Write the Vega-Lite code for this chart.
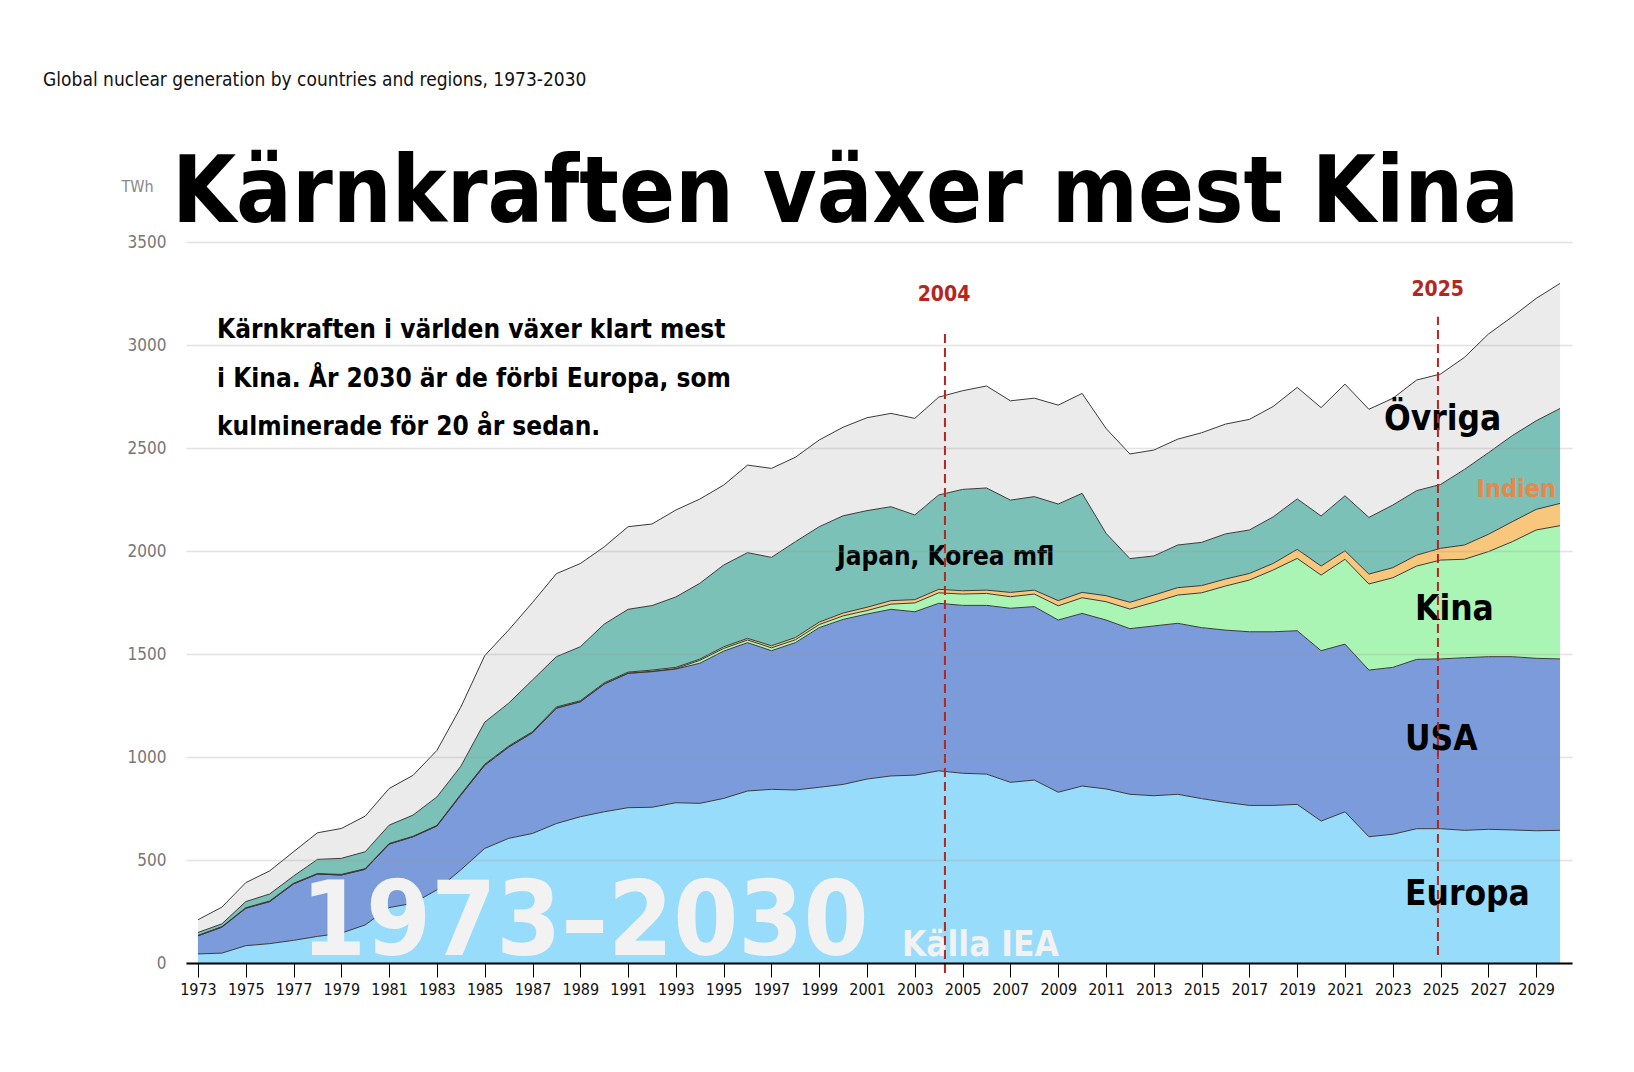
{
  "$schema": "https://vega.github.io/schema/vega-lite/v6.json",
  "width": 1386,
  "height": 721,
  "autosize": {"type": "none"},
  "padding": {"left": 186, "top": 242, "right": 62, "bottom": 109},
  "background": "white",
  "config": {
    "view": {"stroke": null},
    "font": "DejaVu Sans Condensed, sans-serif",
    "text": {"font": "DejaVu Sans Condensed, sans-serif"}
  },
  "layer": [
    {
      "data": {
        "values": [
          {"year": 1973, "Europa": 44, "USA": 88, "Kina": 0, "Indien": 2, "Japan": 14, "Ovriga": 62},
          {"year": 1974, "Europa": 48, "USA": 126, "Kina": 0, "Indien": 2, "Japan": 14, "Ovriga": 81},
          {"year": 1975, "Europa": 84, "USA": 182, "Kina": 0, "Indien": 2, "Japan": 30, "Ovriga": 92},
          {"year": 1976, "Europa": 94, "USA": 204, "Kina": 0, "Indien": 3, "Japan": 34, "Ovriga": 112},
          {"year": 1977, "Europa": 110, "USA": 274, "Kina": 0, "Indien": 3, "Japan": 35, "Ovriga": 118},
          {"year": 1978, "Europa": 129, "USA": 303, "Kina": 0, "Indien": 2, "Japan": 69, "Ovriga": 129},
          {"year": 1979, "Europa": 145, "USA": 282, "Kina": 0, "Indien": 3, "Japan": 78, "Ovriga": 145},
          {"year": 1980, "Europa": 185, "USA": 270, "Kina": 0, "Indien": 3, "Japan": 82, "Ovriga": 173},
          {"year": 1981, "Europa": 269, "USA": 308, "Kina": 0, "Indien": 3, "Japan": 89, "Ovriga": 178},
          {"year": 1982, "Europa": 290, "USA": 323, "Kina": 0, "Indien": 2, "Japan": 103, "Ovriga": 193},
          {"year": 1983, "Europa": 355, "USA": 310, "Kina": 0, "Indien": 3, "Japan": 138, "Ovriga": 226},
          {"year": 1984, "Europa": 452, "USA": 363, "Kina": 0, "Indien": 4, "Japan": 136, "Ovriga": 287},
          {"year": 1985, "Europa": 556, "USA": 404, "Kina": 0, "Indien": 5, "Japan": 204, "Ovriga": 323},
          {"year": 1986, "Europa": 605, "USA": 443, "Kina": 0, "Indien": 5, "Japan": 208, "Ovriga": 355},
          {"year": 1987, "Europa": 629, "USA": 489, "Kina": 0, "Indien": 5, "Japan": 251, "Ovriga": 376},
          {"year": 1988, "Europa": 677, "USA": 560, "Kina": 0, "Indien": 6, "Japan": 244, "Ovriga": 403},
          {"year": 1989, "Europa": 710, "USA": 558, "Kina": 0, "Indien": 5, "Japan": 262, "Ovriga": 404},
          {"year": 1990, "Europa": 734, "USA": 620, "Kina": 0, "Indien": 6, "Japan": 285, "Ovriga": 375},
          {"year": 1991, "Europa": 754, "USA": 652, "Kina": 1, "Indien": 5, "Japan": 305, "Ovriga": 401},
          {"year": 1992, "Europa": 756, "USA": 658, "Kina": 2, "Indien": 6, "Japan": 313, "Ovriga": 396},
          {"year": 1993, "Europa": 778, "USA": 649, "Kina": 2, "Indien": 6, "Japan": 342, "Ovriga": 422},
          {"year": 1994, "Europa": 775, "USA": 680, "Kina": 14, "Indien": 6, "Japan": 368, "Ovriga": 409},
          {"year": 1995, "Europa": 799, "USA": 715, "Kina": 13, "Indien": 8, "Japan": 397, "Ovriga": 388},
          {"year": 1996, "Europa": 835, "USA": 720, "Kina": 13, "Indien": 8, "Japan": 416, "Ovriga": 425},
          {"year": 1997, "Europa": 843, "USA": 673, "Kina": 14, "Indien": 10, "Japan": 429, "Ovriga": 432},
          {"year": 1998, "Europa": 840, "USA": 715, "Kina": 14, "Indien": 11, "Japan": 465, "Ovriga": 410},
          {"year": 1999, "Europa": 853, "USA": 775, "Kina": 15, "Indien": 12, "Japan": 463, "Ovriga": 421},
          {"year": 2000, "Europa": 867, "USA": 801, "Kina": 17, "Indien": 14, "Japan": 472, "Ovriga": 430},
          {"year": 2001, "Europa": 893, "USA": 801, "Kina": 17, "Indien": 16, "Japan": 469, "Ovriga": 451},
          {"year": 2002, "Europa": 908, "USA": 809, "Kina": 25, "Indien": 17, "Japan": 456, "Ovriga": 453},
          {"year": 2003, "Europa": 912, "USA": 793, "Kina": 43, "Indien": 16, "Japan": 411, "Ovriga": 469},
          {"year": 2004, "Europa": 933, "USA": 813, "Kina": 51, "Indien": 17, "Japan": 458, "Ovriga": 475},
          {"year": 2005, "Europa": 921, "USA": 815, "Kina": 55, "Indien": 16, "Japan": 492, "Ovriga": 479},
          {"year": 2006, "Europa": 917, "USA": 819, "Kina": 58, "Indien": 16, "Japan": 496, "Ovriga": 495},
          {"year": 2007, "Europa": 877, "USA": 845, "Kina": 56, "Indien": 21, "Japan": 448, "Ovriga": 482},
          {"year": 2008, "Europa": 888, "USA": 842, "Kina": 61, "Indien": 19, "Japan": 454, "Ovriga": 478},
          {"year": 2009, "Europa": 829, "USA": 836, "Kina": 69, "Indien": 25, "Japan": 469, "Ovriga": 480},
          {"year": 2010, "Europa": 859, "USA": 838, "Kina": 76, "Indien": 26, "Japan": 481, "Ovriga": 485},
          {"year": 2011, "Europa": 845, "USA": 820, "Kina": 89, "Indien": 29, "Japan": 303, "Ovriga": 509},
          {"year": 2012, "Europa": 819, "USA": 804, "Kina": 95, "Indien": 33, "Japan": 212, "Ovriga": 508},
          {"year": 2013, "Europa": 812, "USA": 824, "Kina": 115, "Indien": 35, "Japan": 190, "Ovriga": 514},
          {"year": 2014, "Europa": 819, "USA": 830, "Kina": 137, "Indien": 36, "Japan": 207, "Ovriga": 514},
          {"year": 2015, "Europa": 798, "USA": 830, "Kina": 169, "Indien": 35, "Japan": 210, "Ovriga": 532},
          {"year": 2016, "Europa": 780, "USA": 836, "Kina": 214, "Indien": 34, "Japan": 219, "Ovriga": 533},
          {"year": 2017, "Europa": 765, "USA": 843, "Kina": 251, "Indien": 32, "Japan": 211, "Ovriga": 537},
          {"year": 2018, "Europa": 765, "USA": 843, "Kina": 300, "Indien": 32, "Japan": 226, "Ovriga": 536},
          {"year": 2019, "Europa": 770, "USA": 843, "Kina": 351, "Indien": 44, "Japan": 245, "Ovriga": 541},
          {"year": 2020, "Europa": 689, "USA": 827, "Kina": 367, "Indien": 44, "Japan": 243, "Ovriga": 526},
          {"year": 2021, "Europa": 734, "USA": 814, "Kina": 412, "Indien": 41, "Japan": 267, "Ovriga": 542},
          {"year": 2022, "Europa": 613, "USA": 809, "Kina": 418, "Indien": 48, "Japan": 275, "Ovriga": 525},
          {"year": 2023, "Europa": 625, "USA": 810, "Kina": 435, "Indien": 49, "Japan": 304, "Ovriga": 518},
          {"year": 2024, "Europa": 652, "USA": 822, "Kina": 453, "Indien": 53, "Japan": 313, "Ovriga": 537},
          {"year": 2025, "Europa": 652, "USA": 824, "Kina": 480, "Indien": 57, "Japan": 310, "Ovriga": 536},
          {"year": 2026, "Europa": 644, "USA": 838, "Kina": 478, "Indien": 69, "Japan": 367, "Ovriga": 544},
          {"year": 2027, "Europa": 649, "USA": 838, "Kina": 510, "Indien": 84, "Japan": 396, "Ovriga": 576},
          {"year": 2028, "Europa": 646, "USA": 841, "Kina": 558, "Indien": 97, "Japan": 418, "Ovriga": 577},
          {"year": 2029, "Europa": 642, "USA": 837, "Kina": 623, "Indien": 100, "Japan": 430, "Ovriga": 594},
          {"year": 2030, "Europa": 644, "USA": 832, "Kina": 647, "Indien": 108, "Japan": 461, "Ovriga": 607}
        ]
      },
      "transform": [
        {"fold": ["Europa", "USA", "Kina", "Indien", "Japan", "Ovriga"], "as": ["region", "twh"]},
        {
          "lookup": "region",
          "from": {
            "data": {
              "values": [
                {"region": "Europa", "rank": 1},
                {"region": "USA", "rank": 2},
                {"region": "Kina", "rank": 3},
                {"region": "Indien", "rank": 4},
                {"region": "Japan", "rank": 5},
                {"region": "Ovriga", "rank": 6}
              ]
            },
            "key": "region",
            "fields": ["rank"]
          }
        }
      ],
      "mark": {"type": "area", "opacity": 1, "line": {"stroke": "#3a3a3a", "strokeWidth": 1}},
      "encoding": {
        "x": {
          "field": "year",
          "type": "quantitative",
          "scale": {"domain": [1972.5, 2030.5], "nice": false, "zero": false},
          "axis": {
            "values": [1973, 1975, 1977, 1979, 1981, 1983, 1985, 1987, 1989, 1991, 1993, 1995, 1997, 1999, 2001, 2003, 2005, 2007, 2009, 2011, 2013, 2015, 2017, 2019, 2021, 2023, 2025, 2027, 2029],
            "format": "d",
            "title": null,
            "grid": false,
            "domainColor": "#000",
            "domainWidth": 2,
            "tickColor": "#000",
            "tickSize": 14,
            "tickWidth": 1,
            "labelFontSize": 16,
            "labelColor": "#111",
            "labelPadding": 4,
            "labelFlush": false,
            "labelOverlap": false,
            "zindex": 1
          }
        },
        "y": {
          "field": "twh",
          "type": "quantitative",
          "stack": "zero",
          "scale": {"domain": [0, 3500], "nice": false},
          "axis": {
            "values": [0, 500, 1000, 1500, 2000, 2500, 3000, 3500],
            "format": "d",
            "title": "TWh",
            "titleAngle": 0,
            "titleAlign": "left",
            "titleBaseline": "alphabetic",
            "titleX": -65,
            "titleY": -51,
            "titleFontSize": 16,
            "titleFontWeight": "normal",
            "titleColor": "#888",
            "domain": false,
            "ticks": false,
            "labelPadding": 20,
            "labelFontSize": 17,
            "labelColor": "#777",
            "gridColor": "#999",
            "gridOpacity": 0.28,
            "gridWidth": 1.5,
            "zindex": 1
          }
        },
        "color": {
          "field": "region",
          "type": "nominal",
          "scale": {
            "domain": ["Europa", "USA", "Kina", "Indien", "Japan", "Ovriga"],
            "range": ["#97dcfa", "#7b9bda", "#abf5b4", "#f8c77c", "#7bc1b7", "#ebebeb"]
          },
          "legend": null
        },
        "order": {"field": "rank", "type": "quantitative"}
      }
    },
    {
      "data": {"values": [{"year": 1977.31, "twh": 39, "label": "1973–2030"}]},
      "mark": {"type": "text", "align": "left", "baseline": "alphabetic", "fontSize": 104, "fontWeight": "bold", "color": "#f2f2f2"},
      "encoding": {
        "x": {"field": "year", "type": "quantitative"},
        "y": {"field": "twh", "type": "quantitative"},
        "text": {"field": "label"}
      }
    },
    {
      "data": {"values": [{"year": 2002.46, "twh": 34, "label": "Källa IEA"}]},
      "mark": {"type": "text", "align": "left", "baseline": "alphabetic", "fontSize": 35, "fontWeight": "bold", "color": "#f2f2f2"},
      "encoding": {
        "x": {"field": "year", "type": "quantitative"},
        "y": {"field": "twh", "type": "quantitative"},
        "text": {"field": "label"}
      }
    },
    {
      "data": {
        "values": [
          {"year": 2022.63, "twh": 2587, "label": "Övriga"},
          {"year": 2023.93, "twh": 1667, "label": "Kina"},
          {"year": 2023.51, "twh": 1034, "label": "USA"},
          {"year": 2023.51, "twh": 282, "label": "Europa"}
        ]
      },
      "mark": {"type": "text", "align": "left", "baseline": "alphabetic", "fontSize": 35, "fontWeight": "bold", "color": "#000"},
      "encoding": {
        "x": {"field": "year", "type": "quantitative"},
        "y": {"field": "twh", "type": "quantitative"},
        "text": {"field": "label"}
      }
    },
    {
      "data": {"values": [{"year": 1999.74, "twh": 1934, "label": "Japan, Korea mfl"}]},
      "mark": {"type": "text", "align": "left", "baseline": "alphabetic", "fontSize": 26, "fontWeight": "bold", "color": "#000"},
      "encoding": {
        "x": {"field": "year", "type": "quantitative"},
        "y": {"field": "twh", "type": "quantitative"},
        "text": {"field": "label"}
      }
    },
    {
      "data": {"values": [{"year": 2029.83, "twh": 2262, "label": "Indien"}]},
      "mark": {"type": "text", "align": "right", "baseline": "alphabetic", "fontSize": 25, "fontWeight": "bold", "color": "#e8874a"},
      "encoding": {
        "x": {"field": "year", "type": "quantitative"},
        "y": {"field": "twh", "type": "quantitative"},
        "text": {"field": "label"}
      }
    },
    {
      "data": {"values": [{"year": 1973.8, "twh": 3032, "label": ["Kärnkraften i världen växer klart mest", "i Kina. År 2030 är de förbi Europa, som", "kulminerade för 20 år sedan."]}]},
      "mark": {"type": "text", "align": "left", "baseline": "alphabetic", "fontSize": 26, "fontWeight": "bold", "lineHeight": 48.5, "color": "#000"},
      "encoding": {
        "x": {"field": "year", "type": "quantitative"},
        "y": {"field": "twh", "type": "quantitative"},
        "text": {"field": "label"}
      }
    },
    {
      "data": {"values": [{"year": 1971.91, "twh": 3597, "label": "Kärnkraften växer mest Kina"}]},
      "mark": {"type": "text", "align": "left", "baseline": "alphabetic", "fontSize": 92, "fontWeight": "bold", "color": "#000"},
      "encoding": {
        "x": {"field": "year", "type": "quantitative"},
        "y": {"field": "twh", "type": "quantitative"},
        "text": {"field": "label"}
      }
    },
    {
      "data": {"values": [{"year": 1966.52, "twh": 4257, "label": "Global nuclear generation by countries and regions, 1973-2030"}]},
      "mark": {"type": "text", "align": "left", "baseline": "alphabetic", "fontSize": 19, "color": "#111"},
      "encoding": {
        "x": {"field": "year", "type": "quantitative"},
        "y": {"field": "twh", "type": "quantitative"},
        "text": {"field": "label"}
      }
    },
    {
      "data": {"values": [{"year": 2004.26, "twh": -49, "top": 3053}, {"year": 2024.89, "twh": 39, "top": 3137}]},
      "mark": {"type": "rule", "color": "#b5261e", "strokeDash": [9, 5], "strokeWidth": 2},
      "encoding": {
        "x": {"field": "year", "type": "quantitative"},
        "y": {"field": "twh", "type": "quantitative"},
        "y2": {"field": "top"}
      }
    },
    {
      "data": {"values": [{"year": 2004.22, "twh": 3214, "label": "2004"}, {"year": 2024.88, "twh": 3238, "label": "2025"}]},
      "mark": {"type": "text", "align": "center", "baseline": "alphabetic", "fontSize": 21, "fontWeight": "bold", "color": "#b5261e"},
      "encoding": {
        "x": {"field": "year", "type": "quantitative"},
        "y": {"field": "twh", "type": "quantitative"},
        "text": {"field": "label"}
      }
    }
  ]
}
